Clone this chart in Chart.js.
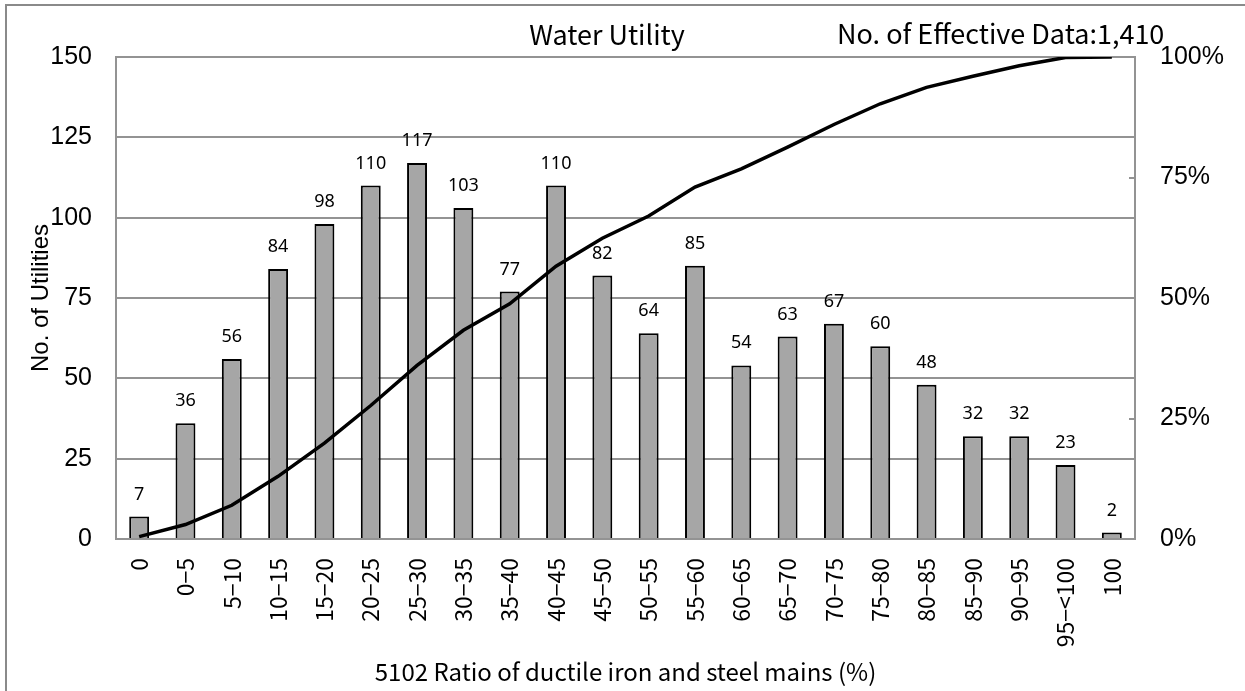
<!DOCTYPE html>
<html>
<head>
<meta charset="utf-8">
<script src="https://cdn.jsdelivr.net/npm/chart.js@4.4.1/dist/chart.umd.min.js"></script>
<style>
    html, body { margin: 0; padding: 0; background: #fff; overflow: hidden; }
    #frame { position: absolute; left: 5px; top: 4px; width: 1300px; height: 800px; border: 2px solid #8a8a8a; }
    #wrap { position: absolute; left: 0; top: 0; width: 1245px; height: 691px; }
</style>
</head>
<body>
<div id="frame"></div>
<div id="wrap"><canvas id="ratioChart" width="1245" height="691"></canvas></div>
<script>
// ratio classes (%) on the x axis
const categories = ["0", "0−5", "5−10", "10−15", "15−20", "20−25", "25−30", "30−35", "35−40", "40−45",
    "45−50", "50−55", "55−60", "60−65", "65−70", "70−75", "75−80", "80−85", "85−90", "90−95", "95−<100", "100"];
// number of utilities per class
const utilities = [7, 36, 56, 84, 98, 110, 117, 103, 77, 110, 82, 64, 85, 54, 63, 67, 60, 48, 32, 32, 23, 2];
// cumulative share (%)
const cumulativePct = [0.5, 3.0, 7.0, 13.0, 19.9, 27.7, 36.0, 43.3, 48.8, 56.6, 62.4, 67.0, 73.0, 76.8, 81.3, 86.0, 90.3, 93.7, 96.0, 98.2, 99.9, 100];

const leftMax = 150;
const rightMax = 100;
const headerTitle = "Water Utility";
const headerCount = "No. of Effective Data:1,410";
const xTitle = "5102 Ratio of ductile iron and steel mains (%)";
const yTitle = "No. of Utilities";

const gridGrey = "#939393";
const gothic = "'Noto Sans CJK JP', 'Noto Sans', sans-serif";
const arial = "'Liberation Sans', Arial, sans-serif";

// numbers above the bars
const valueLabels = {
    id: "valueLabels",
    afterDatasetsDraw(chart) {
        const ctx = chart.ctx;
        const meta = chart.getDatasetMeta(1);
        ctx.save();
        ctx.fillStyle = "#000";
        ctx.font = "18px 'Noto Sans', sans-serif";
        ctx.textAlign = "center";
        ctx.textBaseline = "alphabetic";
        meta.data.forEach((bar, i) => {
            ctx.fillText(String(utilities[i]), bar.x, bar.y - 17);
        });
        ctx.restore();
    }
};

// small inward ticks on the right axis + header texts
const extras = {
    id: "extras",
    afterDraw(chart) {
        const ctx = chart.ctx;
        const area = chart.chartArea;
        const y2 = chart.scales.y2;
        ctx.save();
        ctx.strokeStyle = gridGrey;
        ctx.lineWidth = 2;
        y2.ticks.forEach(t => {
            const y = Math.round(y2.getPixelForValue(t.value));
            ctx.beginPath();
            ctx.moveTo(area.right - 6, y);
            ctx.lineTo(area.right, y);
            ctx.stroke();
        });

        ctx.fillStyle = "#000";
        ctx.font = "27px " + gothic;
        ctx.textBaseline = "alphabetic";
        ctx.textAlign = "center";
        ctx.fillText(headerTitle, 607, 45);
        ctx.textAlign = "left";
        ctx.fillText(headerCount, 837, 44);
        ctx.restore();
    }
};

const chart = new Chart(document.getElementById("ratioChart"), {
    data: {
        labels: categories,
        datasets: [
            {
                type: "line",
                label: "Cumulative",
                data: cumulativePct,
                yAxisID: "y2",
                borderColor: "#000",
                borderWidth: 3.5,
                tension: 0,
                pointRadius: 0,
                fill: false,
                order: 0
            },
            {
                type: "bar",
                label: "No. of Utilities",
                data: utilities,
                yAxisID: "y",
                backgroundColor: "#a6a6a6",
                borderColor: "#000",
                borderWidth: 2,
                borderSkipped: "start",
                barPercentage: 0.43,
                categoryPercentage: 1,
                order: 1
            }
        ]
    },
    options: {
        responsive: false,
        animation: false,
        layout: { padding: { top: 57, left: 0, right: 0, bottom: 0 } },
        plugins: {
            legend: { display: false },
            tooltip: { enabled: false }
        },
        scales: {
            x: {
                grid: { display: false },
                border: { display: true, color: gridGrey, width: 2 },
                ticks: {
                    autoSkip: false,
                    minRotation: 90,
                    maxRotation: 90,
                    padding: 11,
                    color: "#000",
                    font: { family: gothic, size: 23 }
                },
                title: {
                    display: true,
                    text: xTitle,
                    color: "#000",
                    font: { family: gothic, size: 24 },
                    padding: { top: 0, bottom: 5 }
                },
                afterFit(scale) { scale.height = 152; }
            },
            y: {
                position: "left",
                min: 0,
                max: leftMax,
                ticks: {
                    stepSize: 25,
                    padding: 24,
                    color: "#000",
                    font: { family: arial, size: 25 }
                },
                grid: { color: gridGrey, lineWidth: 2, drawTicks: false },
                border: { display: true, color: gridGrey, width: 2 },
                title: {
                    display: true,
                    text: yTitle,
                    color: "#000",
                    font: { family: arial, size: 24 },
                    padding: { top: 27, bottom: 0 }
                },
                afterFit(scale) { scale.width = 116; }
            },
            y2: {
                position: "right",
                min: 0,
                max: rightMax,
                ticks: {
                    stepSize: 25,
                    padding: 25,
                    color: "#000",
                    font: { family: arial, size: 25 },
                    callback: v => v + "%"
                },
                grid: { drawOnChartArea: false, drawTicks: false },
                border: { display: true, color: gridGrey, width: 2 },
                afterFit(scale) { scale.width = 110; }
            }
        }
    },
    plugins: [valueLabels, extras]
});
</script>
</body>
</html>
